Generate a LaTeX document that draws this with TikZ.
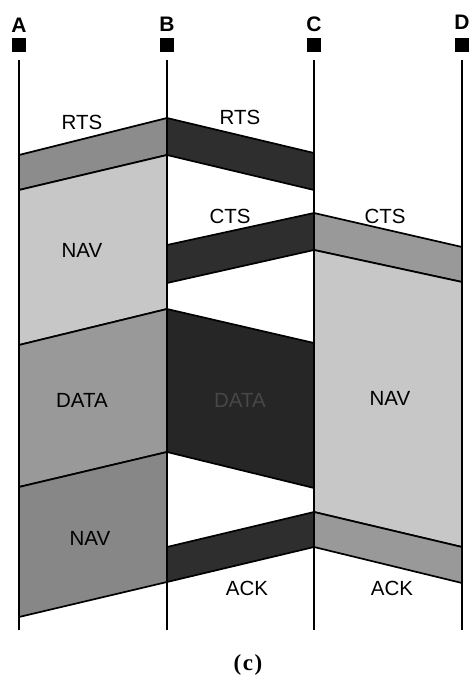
\documentclass[tikz,border=0pt]{standalone}
\usepackage{fontspec}
\setsansfont{Liberation Sans}
\newfontfamily\capfont{Liberation Serif}
\usetikzlibrary{calc}

\tikzset{
	stn/.style={line width=1.8pt},
	frm/.style={draw=black, line width=1.7pt, line join=miter},
	lbl/.style={font=\sffamily\fontsize{20.5}{22}\selectfont, inner sep=0pt},
	hdr/.style={font=\sffamily\bfseries\fontsize{21}{23}\selectfont, inner sep=0pt},
}

\begin{document}
\begin{tikzpicture}[x=1pt, y=-1pt]
		%%%%% START %%%%%
		\useasboundingbox (0, 0) rectangle (472, 687);
		
		% stations
		\node[hdr] (lA) at (19, 25) {A};
		\node[hdr] (lB) at (167, 24) {B};
		\node[hdr] (lC) at (314, 24) {C};
		\node[hdr] (lD) at (462, 22) {D};
		\foreach \x in {19, 167, 314, 462}
		\fill (\x-7, 38.5) rectangle (\x+7, 52.5);
		
		% A -- B
		\filldraw[frm, fill=black!45] (19, 155) -- (167, 118) -- (167, 155) -- (19, 190) -- cycle;
		\filldraw[frm, fill=black!22] (19, 190) -- (167, 155) -- (167, 309) -- (19, 345) -- cycle;
		\filldraw[frm, fill=black!40] (19, 345) -- (167, 309) -- (167, 452) -- (19, 487) -- cycle;
		\filldraw[frm, fill=black!47] (19, 487) -- (167, 452) -- (167, 582) -- (19, 617) -- cycle;
		
		% B -- C
		\filldraw[frm, fill=black!82] (167, 118) -- (314, 153) -- (314, 190) -- (167, 155) -- cycle;
		\filldraw[frm, fill=black!82] (167, 245) -- (314, 213) -- (314, 250) -- (167, 283) -- cycle;
		\filldraw[frm, fill=black!85] (167, 309) -- (314, 343) -- (314, 488) -- (167, 452) -- cycle;
		\filldraw[frm, fill=black!82] (167, 547) -- (314, 512) -- (314, 547) -- (167, 582) -- cycle;
		
		% C -- D
		\filldraw[frm, fill=black!40] (314, 213) -- (462, 247) -- (462, 282) -- (314, 250) -- cycle;
		\filldraw[frm, fill=black!22] (314, 250) -- (462, 282) -- (462, 547) -- (314, 512) -- cycle;
		\filldraw[frm, fill=black!40] (314, 512) -- (462, 547) -- (462, 583) -- (314, 547) -- cycle;
		
		\foreach \x in {19, 167, 314, 462}
		\draw[stn] (\x, 60) -- (\x, 630);
		
		% frame names
		\node[lbl] (rts1) at (82, 122) {RTS};
		\node[lbl] (rts2) at (240, 117) {RTS};
		\node[lbl] (cts1) at (230, 216) {CTS};
		\node[lbl] (cts2) at (385, 216) {CTS};
		\node[lbl] (nav1) at (82, 250) {NAV};
		\node[lbl] (data1) at (82, 400) {DATA};
		\node[lbl, text=black!72] (data2) at (240, 400) {DATA};
		\node[lbl] (nav2) at (390, 398) {NAV};
		\node[lbl] (nav3) at (90, 538) {NAV};
		\node[lbl] (ack1) at (247, 588) {ACK};
		\node[lbl] (ack2) at (392, 588) {ACK};
		
		\node[font=\capfont\bfseries\fontsize{23}{25}\selectfont] (cap) at (248, 665) {(\kern1.5pt c\kern1.5pt)};
		
		%%%%% END %%%%%
	\end{tikzpicture}
\end{document}
